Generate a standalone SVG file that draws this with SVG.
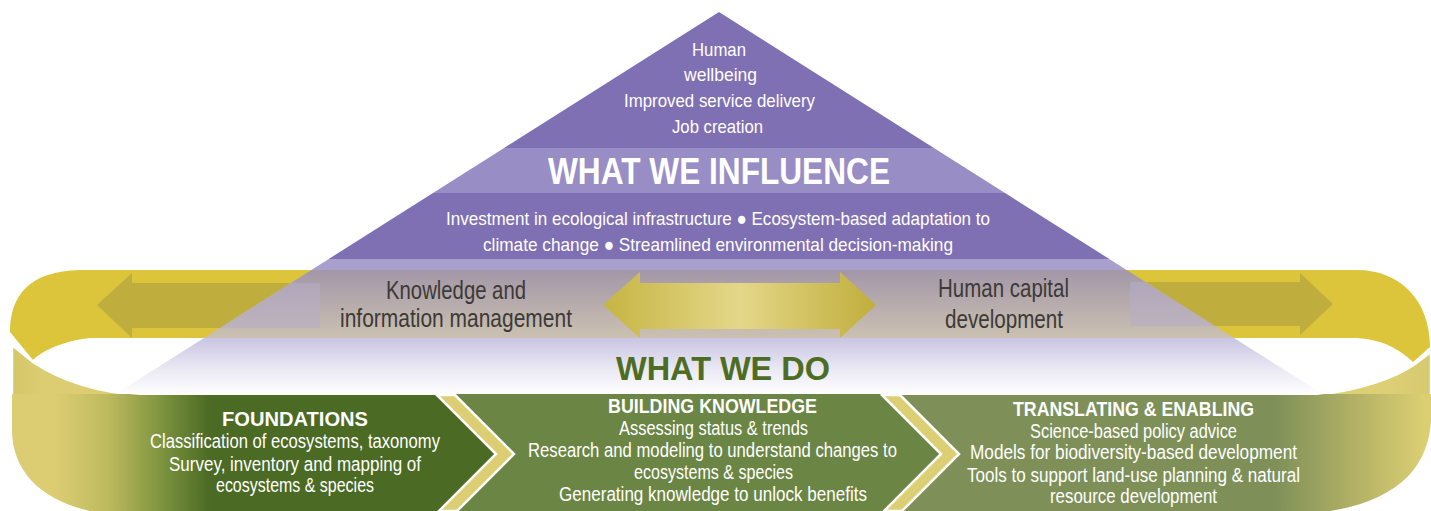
<svg xmlns="http://www.w3.org/2000/svg" width="1431" height="511" viewBox="0 0 1431 511">
<defs>
<style>
.t{font-family:"Liberation Sans Narrow","Liberation Sans",Arial,sans-serif;fill:#ffffff}
.b{font-weight:bold}
.d{fill:#3c3a36}
.g{fill:#4d6d24}
.sep{fill:none;stroke:#ffffff;stroke-width:2.5}
</style>
<linearGradient id="frontG" gradientUnits="userSpaceOnUse" x1="0" y1="0" x2="1431" y2="0">
<stop offset="0" stop-color="#d2c366"/><stop offset="0.03" stop-color="#dccd72"/><stop offset="0.97" stop-color="#dccf74"/><stop offset="1" stop-color="#d6c96f"/>
</linearGradient>
<linearGradient id="box1G" gradientUnits="userSpaceOnUse" x1="55" y1="0" x2="210" y2="0">
<stop offset="0" stop-color="#dccd72"/><stop offset="0.35" stop-color="#bdb95d"/><stop offset="0.7" stop-color="#7b923e"/><stop offset="1" stop-color="#4b6a24"/>
</linearGradient>
<linearGradient id="box3G" gradientUnits="userSpaceOnUse" x1="1275" y1="0" x2="1425" y2="0">
<stop offset="0" stop-color="#7e9058"/><stop offset="0.5" stop-color="#b0af65"/><stop offset="1" stop-color="#dccf73"/>
</linearGradient>
<linearGradient id="grayG" x1="0" y1="0" x2="0" y2="1">
<stop offset="0" stop-color="#a397a8"/><stop offset="1" stop-color="#cbc1b1"/>
</linearGradient>
<linearGradient id="fadeG" x1="0" y1="0" x2="0" y2="1">
<stop offset="0" stop-color="#c9c4e2"/><stop offset="0.55" stop-color="#ebe9f4"/><stop offset="1" stop-color="#ffffff"/>
</linearGradient>
<linearGradient id="midArrowG" x1="0" y1="0" x2="1" y2="0">
<stop offset="0" stop-color="#c6b543"/><stop offset="0.5" stop-color="#e4d789"/><stop offset="1" stop-color="#c0ae3c"/>
</linearGradient>
<clipPath id="frontClip">
<path d="M 12,345 L 33,362 C 60,380 95,392 140,395 L 1317,395 C 1360,390 1395,378 1415,364 L 1431,352 L 1431,420 C 1429,465 1400,500 1330,511 L 90,511 C 40,500 12,470 12,430 Z"/>
</clipPath>
<clipPath id="outL"><polygon points="0,260 327.2,260 114,395 0,395"/></clipPath>
<clipPath id="inT"><polygon points="327.2,260 1110.8,260 1324,395 114,395"/></clipPath>
<clipPath id="outR"><polygon points="1110.8,260 1431,260 1431,395 1324,395"/></clipPath>
</defs>

<rect width="1431" height="511" fill="#ffffff"/>

<g id="ring-back">
<path d="M 80,270 L 1357,270 C 1400,270 1430,300 1430,347 L 1413,362 C 1400,350 1385,340 1357,338 L 90,338 C 70,340 45,348 33,360 L 10,332 C 10,295 30,271 80,270 Z" fill="#dcc53a"/>
</g>

<g id="pyramid">
<polygon points="719,12 933.9,148 504.1,148" fill="#7f70b4"/>
<polygon points="504.1,148 933.9,148 1005,193 433,193" fill="#988dc5"/>
<polygon points="433,193 1005,193 1109.3,259 328.7,259" fill="#7f70b4"/>
<polygon points="328.7,259 1109.3,259 1126.6,270 311.4,270" fill="#a89fcd"/>
<polygon points="311.4,270 1126.6,270 1234,338 204,338" fill="url(#grayG)"/>
<polygon points="204,338 1234,338 1324,395 114,395" fill="url(#fadeG)"/>
</g>

<g id="ring-front">
<path d="M 12,345 L 33,362 C 60,380 95,392 140,395 L 1317,395 C 1360,390 1395,378 1415,364 L 1431,352 L 1431,420 C 1429,465 1400,500 1330,511 L 90,511 C 40,500 12,470 12,430 Z" fill="url(#frontG)" stroke="#ffffff" stroke-width="2.5"/>
</g>

<g id="foundations">
<polygon points="0,394 436,394 496,454 436,514 0,514" fill="url(#box1G)" clip-path="url(#frontClip)"/>
<polyline class="sep" points="436,394 496,454 436,514"/>
<text class="t b" x="222" y="426" font-size="20" textLength="146" lengthAdjust="spacingAndGlyphs">FOUNDATIONS</text>
<text class="t" x="150" y="448" font-size="20" textLength="290" lengthAdjust="spacingAndGlyphs">Classification of ecosystems, taxonomy</text>
<text class="t" x="169" y="471" font-size="20" textLength="252" lengthAdjust="spacingAndGlyphs">Survey, inventory and mapping of</text>
<text class="t" x="216" y="492" font-size="20" textLength="158" lengthAdjust="spacingAndGlyphs">ecosystems &amp; species</text>
</g>

<g id="building-knowledge">
<polygon points="454,394 881,394 941,454 881,514 454,514 514,454" fill="#6b8544"/>
<polyline class="sep" points="454,394 514,454 454,514"/>
<polyline class="sep" points="881,394 941,454 881,514"/>
<text class="t b" x="608" y="413" font-size="20" textLength="209" lengthAdjust="spacingAndGlyphs">BUILDING KNOWLEDGE</text>
<text class="t" x="619" y="435" font-size="20" textLength="189" lengthAdjust="spacingAndGlyphs">Assessing status &amp; trends</text>
<text class="t" x="528" y="457" font-size="20" textLength="369" lengthAdjust="spacingAndGlyphs">Research and modeling to understand changes to</text>
<text class="t" x="634" y="479" font-size="20" textLength="159" lengthAdjust="spacingAndGlyphs">ecosystems &amp; species</text>
<text class="t" x="559" y="501" font-size="20" textLength="308" lengthAdjust="spacingAndGlyphs">Generating knowledge to unlock benefits</text>
</g>

<g id="translating-enabling">
<polygon points="899,394 1431,394 1431,514 899,514 959,454" fill="url(#box3G)" clip-path="url(#frontClip)"/>
<polyline class="sep" points="899,394 959,454 899,514"/>
<text class="t b" x="1013" y="416" font-size="20" textLength="241" lengthAdjust="spacingAndGlyphs">TRANSLATING &amp; ENABLING</text>
<text class="t" x="1030" y="438" font-size="20" textLength="207" lengthAdjust="spacingAndGlyphs">Science-based policy advice</text>
<text class="t" x="970" y="459" font-size="20" textLength="327" lengthAdjust="spacingAndGlyphs">Models for biodiversity-based development</text>
<text class="t" x="967" y="482" font-size="20" textLength="333" lengthAdjust="spacingAndGlyphs">Tools to support land-use planning &amp; natural</text>
<text class="t" x="1050" y="503" font-size="20" textLength="167" lengthAdjust="spacingAndGlyphs">resource development</text>
</g>

<g id="connectors">
<g id="arrow-left">
<polygon points="97,305 132,273 132,283 320,283 320,328 132,328 132,338" fill="#bfae3e" clip-path="url(#outL)"/>
<polygon points="97,305 132,273 132,283 320,283 320,328 132,328 132,338" fill="#b6adc8" fill-opacity="0.55" clip-path="url(#inT)"/>
</g>
<g id="arrow-right">
<polygon points="1130,282 1300,282 1300,273 1333,304 1300,335 1300,326 1130,326" fill="#bfae3e" clip-path="url(#outR)"/>
<polygon points="1130,282 1300,282 1300,273 1333,304 1300,335 1300,326 1130,326" fill="#b6adc8" fill-opacity="0.55" clip-path="url(#inT)"/>
</g>
<polygon id="arrow-center" points="603,305 640,272 640,283 840,283 840,272 876,305 840,338 840,329 640,329 640,338" fill="url(#midArrowG)"/>
</g>

<g id="what-we-influence">
<text class="t" x="692" y="56" font-size="19" textLength="54" lengthAdjust="spacingAndGlyphs">Human</text>
<text class="t" x="684" y="81" font-size="19" textLength="73" lengthAdjust="spacingAndGlyphs">wellbeing</text>
<text class="t" x="624" y="107" font-size="19" textLength="191" lengthAdjust="spacingAndGlyphs">Improved service delivery</text>
<text class="t" x="672" y="133" font-size="19" textLength="91" lengthAdjust="spacingAndGlyphs">Job creation</text>
<text class="t b" x="548" y="184" font-size="36" textLength="342" lengthAdjust="spacingAndGlyphs">WHAT WE INFLUENCE</text>
<text class="t" x="446" y="225" font-size="19" textLength="544" lengthAdjust="spacingAndGlyphs">Investment in ecological infrastructure ● Ecosystem-based adaptation to</text>
<text class="t" x="483" y="251" font-size="19" textLength="470" lengthAdjust="spacingAndGlyphs">climate change  ● Streamlined environmental decision-making</text>
</g>

<g id="knowledge-management">
<text class="t d" x="386" y="299" font-size="25" textLength="140" lengthAdjust="spacingAndGlyphs">Knowledge and</text>
<text class="t d" x="340" y="327" font-size="25" textLength="232" lengthAdjust="spacingAndGlyphs">information management</text>
</g>

<g id="human-capital">
<text class="t d" x="938" y="297" font-size="25" textLength="131" lengthAdjust="spacingAndGlyphs">Human capital</text>
<text class="t d" x="945" y="328" font-size="25" textLength="118" lengthAdjust="spacingAndGlyphs">development</text>
</g>

<g id="what-we-do">
<text class="t b g" x="616" y="380" font-size="34" textLength="214" lengthAdjust="spacingAndGlyphs">WHAT WE DO</text>
</g>
</svg>
